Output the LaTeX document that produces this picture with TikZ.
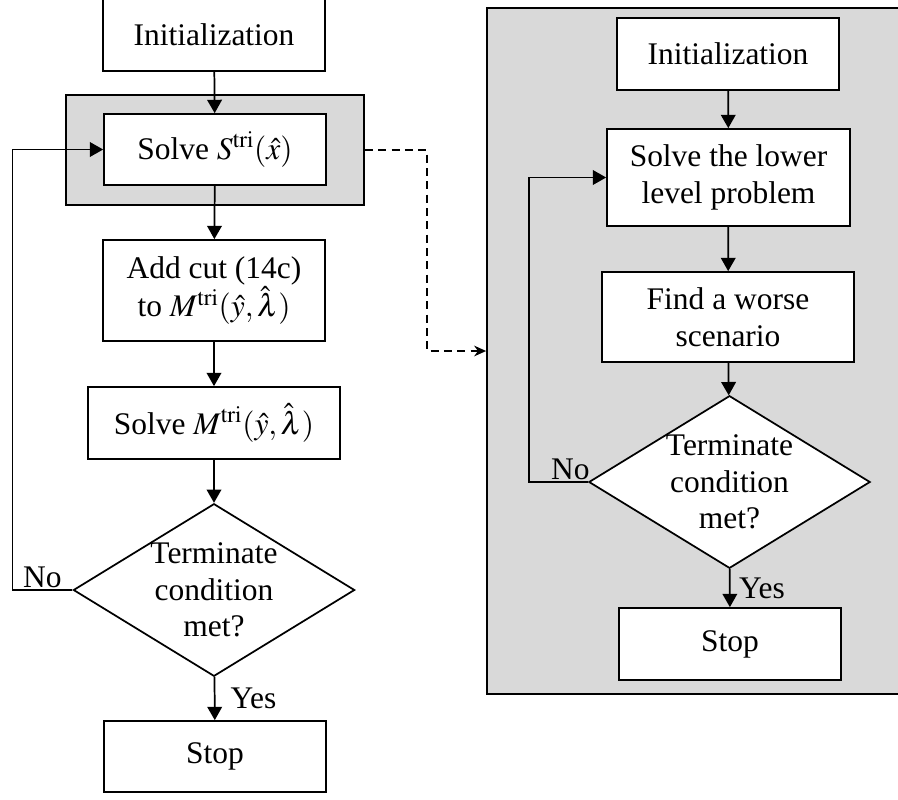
\documentclass[tikz,border=0pt]{standalone}
\usepackage{mathptmx}
\usepackage[no-math]{fontspec}
\setmainfont{Liberation Serif}
\usetikzlibrary{shapes.geometric,arrows.meta}
\definecolor{panelgray}{RGB}{217,217,217}

\begin{document}
\begin{tikzpicture}[x=0.75pt, y=-0.75pt, line width=1.3pt,
				font=\fontsize{23.6}{27.5}\selectfont,
				block/.style = {rectangle, draw, fill = white, align = center,
				inner sep = 0pt, minimum width = 166.5pt, minimum height = 54pt},
				decision/.style = {diamond, draw, fill = white, align = center,
				aspect = 1.63, inner sep = 0pt},
				panel/.style = {rectangle, draw, fill = panelgray, inner sep = 0pt},
				flow/.style = {-{Triangle[length=10pt,width=11pt]}},
				dashflow/.style = {dash pattern = on 6pt off 4pt,
				-{Stealth[length=9pt,width=8pt]}}]
				\useasboundingbox (0,0) rectangle (898,799);

				% backgrounds
				\node [panel, minimum width = 223.5pt, minimum height = 82.5pt] (hull) at (215,150) {};
				\node [panel, minimum width = 313.5pt, minimum height = 514.5pt] (sub) at (696,351) {};

				% main loop
				\node [block] (init_l) at (214,35) {Initialization};
				\node [block, minimum height = 53.25pt] (solve_s) at (215,149.5)
				{Solve $S^{\mathrm{tri}}(\hat{x})$};
				\node [block, minimum height = 75.75pt] (add_cut) at (214,290.5)
				{Add cut (14c)\\ to $M^{\mathrm{tri}}(\hat{y},\hat{\lambda})$};
				\node [block, minimum width = 189pt] (solve_m) at (214,423)
				{Solve $M^{\mathrm{tri}}(\hat{y},\hat{\lambda})$};
				\node [decision] (cond_l) at (214,590) {Terminate\\ condition\\ met?};
				\node [block, minimum height = 53.25pt] (stop_l) at (215,756.5) {Stop};

				\draw [flow] (init_l) -- (solve_s);
				\draw [flow] (solve_s) -- (add_cut);
				\draw [flow] (add_cut) -- (solve_m);
				\draw [flow] (solve_m) -- (cond_l);
				\draw [flow] (cond_l) -- node [right, xshift = 8pt] (yes_l) {Yes} (stop_l);
				\draw [flow] (cond_l.west) -- node [above, inner sep = 1pt] (no_l) {No} ++(-60,0)
				|- (solve_s.west);

				% sub loop
				\node [block] (init_r) at (728,54) {Initialization};
				\node [block, minimum width = 182.25pt, minimum height = 72.75pt] (solve_low)
				at (728.5,177.5) {Solve the lower\\ level problem};
				\node [block, minimum width = 189pt, minimum height = 67.5pt] (worse)
				at (728,317) {Find a worse\\ scenario};
				\node [decision] (cond_r) at (729.5,482) {Terminate\\ condition\\ met?};
				\node [block] (stop_r) at (730,644) {Stop};

				\draw [flow] (init_r) -- (solve_low);
				\draw [flow] (solve_low) -- (worse);
				\draw [flow] (worse) -- (cond_r);
				\draw [flow] (cond_r) -- node [right, xshift = 3pt] (yes_r) {Yes} (stop_r);
				\draw [flow] (cond_r.west) -- node [above, inner sep = 1pt, pos = 0.3] (no_r) {No} ++(-59,0)
				|- (solve_low.west);

				\draw [dashflow] (hull.east) -- ++(62,0) |- (sub.west);
\end{tikzpicture}
\end{document}
